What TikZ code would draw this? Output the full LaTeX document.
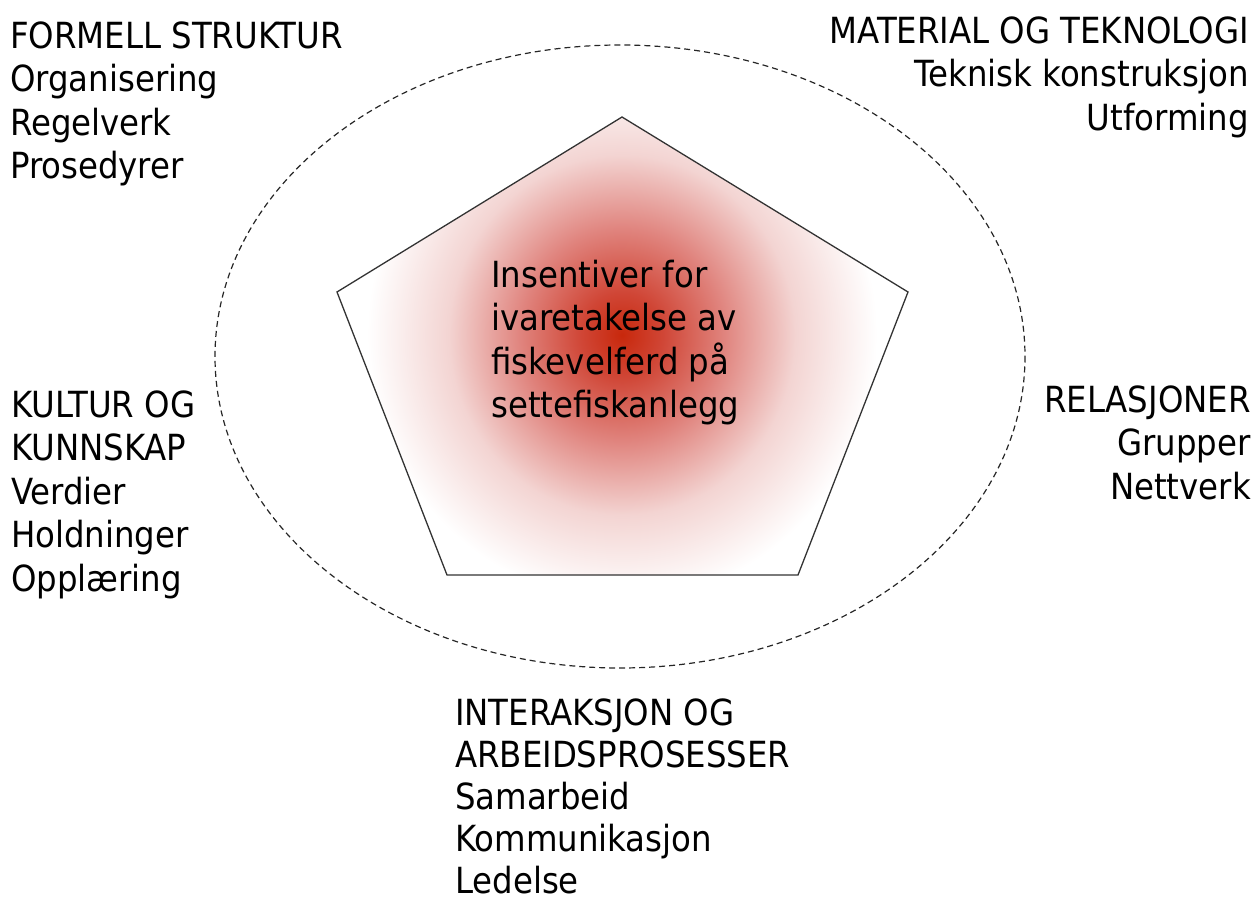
\documentclass[tikz,border=0pt]{standalone}
\usepackage{fontspec}
\setmainfont{DejaVu Sans Condensed}
\begin{document}
\begin{tikzpicture}[x=1pt,y=-1pt,
  lbl/.style={inner sep=0pt,font=\fontsize{36}{43.5}\selectfont},
  lblb/.style={inner sep=0pt,font=\fontsize{36}{42}\selectfont},
  penta/.style={draw=black!80,line width=1.3pt,line join=miter},
  ring/.style={draw=black!85,line width=1.2pt,dash pattern=on 6pt off 4pt}]
\useasboundingbox (0,0) rectangle (1256,901);
\definecolor{rc0}{RGB}{200,40,12}
\definecolor{rc1}{RGB}{208,70,54}
\definecolor{rc2}{RGB}{224,132,126}
\definecolor{rc3}{RGB}{243,212,210}
\pgfdeclareradialshading{glow}{\pgfpoint{0bp}{0bp}}{%
  color(0bp)=(rc0); color(4bp)=(rc1); color(10bp)=(rc2); color(17bp)=(rc3);
  color(25bp)=(white); color(50bp)=(white)}
% pentagon corners
\coordinate (pt) at (622,117);
\coordinate (pr) at (908,292);
\coordinate (pbr) at (798,575);
\coordinate (pbl) at (447,575);
\coordinate (pl) at (337,292);
\coordinate (gc) at (622,335);
\begin{scope}
  \clip (pt) -- (pr) -- (pbr) -- (pbl) -- (pl) -- cycle;
  \shade[shading=glow] (gc) ellipse [x radius=255, y radius=265];
\end{scope}
\draw[penta] (pt) -- (pr) -- (pbr) -- (pbl) -- (pl) -- cycle;
% dashed ellipse
\coordinate (ec) at (620,356.5);
\draw[ring] (ec) ellipse [x radius=405, y radius=311.5];
% labels
\node[lbl,anchor=north west,align=left] (formell) at (10,18)
  {\rule{0pt}{30pt}FORMELL STRUKTUR\\Organisering\\Regelverk\\Prosedyrer};
\node[lbl,anchor=north east,align=right] (material) at (1249,13)
  {\rule{0pt}{30pt}MATERIAL OG TEKNOLOGI\\Teknisk konstruksjon\\Utforming};
\node[lbl,anchor=north west,align=left] (kultur) at (11,387)
  {\rule{0pt}{30pt}KULTUR OG\\KUNNSKAP\\Verdier\\Holdninger\\Oppl\ae ring};
\node[lbl,anchor=north east,align=right] (relasjoner) at (1251,382)
  {\rule{0pt}{30pt}RELASJONER\\Grupper\\Nettverk};
\node[lblb,anchor=north west,align=left] (interaksjon) at (455,695)
  {\rule{0pt}{30pt}INTERAKSJON OG\\ARBEIDSPROSESSER\\Samarbeid\\Kommunikasjon\\Ledelse};
\node[lbl,anchor=north west,align=left] (center) at (491,257)
  {\rule{0pt}{30pt}Insentiver for\\ivaretakelse av\\fiskevelferd på\\settefiskanlegg};
\end{tikzpicture}
\end{document}
